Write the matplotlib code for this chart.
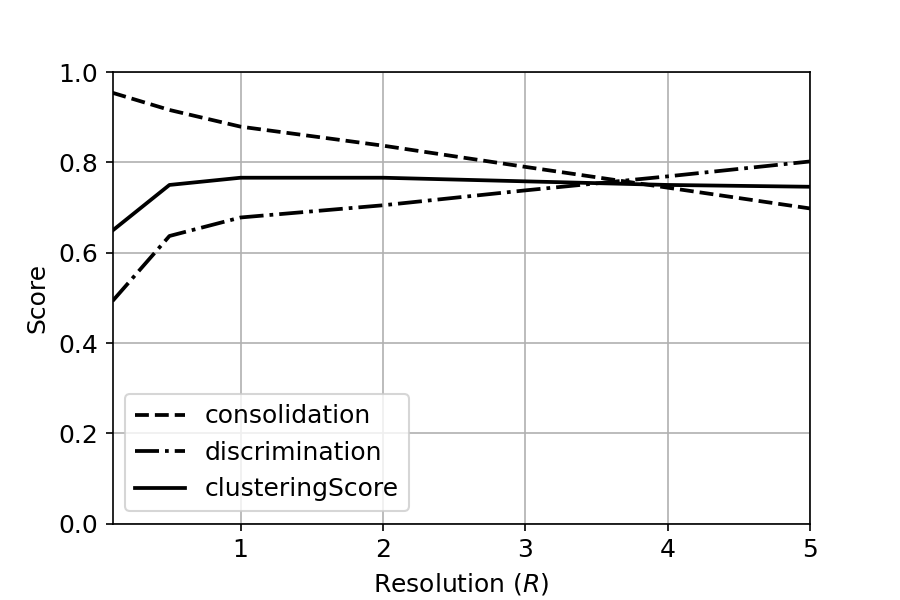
import matplotlib
matplotlib.use("Agg")
import matplotlib.pyplot as plt

resolution = [0.1, 0.5, 1, 2, 3, 4, 5]
consolidation = [0.954, 0.916, 0.879, 0.837, 0.790, 0.744, 0.698]
discrimination = [0.493, 0.637, 0.678, 0.705, 0.738, 0.769, 0.802]
clustering_score = [0.649, 0.750, 0.766, 0.766, 0.758, 0.750, 0.746]

plt.rcParams['font.size'] = 12

fig, ax = plt.subplots(figsize=(6, 4), dpi=150)
fig.subplots_adjust(left=0.125, right=0.9, top=0.88, bottom=0.127)

ax.plot(resolution, consolidation, color='k', ls=(0, (3.7, 1.6)), lw=1.8, label='consolidation')
ax.plot(resolution, discrimination, color='k', ls=(0, (6.4, 1.6, 1.0, 1.6)), lw=1.8, label='discrimination')
ax.plot(resolution, clustering_score, color='k', ls='-', lw=1.8, label='clusteringScore')

ax.set_xlim(0.1, 5)
ax.set_ylim(0, 1.0)
ax.set_xticks([1, 2, 3, 4, 5])
ax.set_yticks([0.0, 0.2, 0.4, 0.6, 0.8, 1.0])
ax.grid(True, color='#b0b0b0', lw=0.8)
ax.set_xlabel('Resolution ($R$)')
ax.set_ylabel('Score')
ax.legend(loc='lower left')

fig.savefig('out.png', dpi=150)
